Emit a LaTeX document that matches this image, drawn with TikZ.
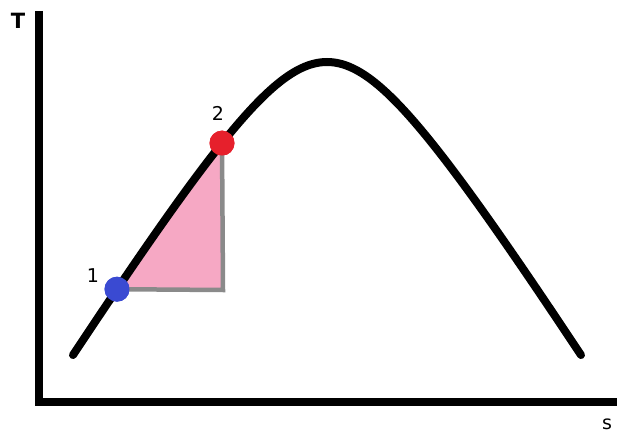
\documentclass[tikz,border=0pt]{standalone}
\usepackage{fontspec}
\setmainfont{DejaVu Sans}
\definecolor{pinkfill}{HTML}{F6A8C4}
\definecolor{ptblue}{HTML}{3A4AD2}
\definecolor{ptred}{HTML}{E6202C}
\definecolor{greyline}{HTML}{8A8A8A}
\begin{document}
\begin{tikzpicture}[x=1pt,y=-1pt,
  axis/.style={line width=8pt},
  curveline/.style={line width=8pt,line cap=round},
  greyedge/.style={line width=4.5pt,draw=greyline},
  statept/.style={circle,inner sep=0pt,minimum size=25pt},
  lbl/.style={font=\fontsize{19}{22}\selectfont}
  ]
\useasboundingbox (0,0) rectangle (617,435);
\def\domecurve{plot[domain=-254:254,samples=161,variable=\t] ({327+\t},{62+130*(sqrt(1+(0.012185*\t)^2)-1)})}
% pink area
\begin{scope}
  \clip (117,130) rectangle (223,290);
  \fill[pinkfill] \domecurve -- (581,420) -- (73,420) -- cycle;
\end{scope}
% axes
\coordinate (top) at (39,11);
\coordinate (corner) at (39,402);
\coordinate (right) at (617,402);
\draw[axis] (top) -- (corner) -- (right);
\node[font=\bfseries\fontsize{21}{24}\selectfont] (T) at (18,21) {T};
\node[lbl] (S) at (607,424) {s};
% grey edges
\coordinate (c) at (223,290);
\node[statept,fill=ptblue] (p1) at (117,289.2) {};
\node[statept,fill=ptred] (p2) at (222,143.1) {};
\draw[greyedge] (p2.center) -- (c) -- (p1.center);
% curve
\draw[curveline] \domecurve;
\node[statept,fill=ptblue] at (p1) {};
\node[statept,fill=ptred] at (p2) {};
\node[lbl] (l1) at (93,276) {1};
\node[lbl] (l2) at (218,113) {2};
\end{tikzpicture}
\end{document}
